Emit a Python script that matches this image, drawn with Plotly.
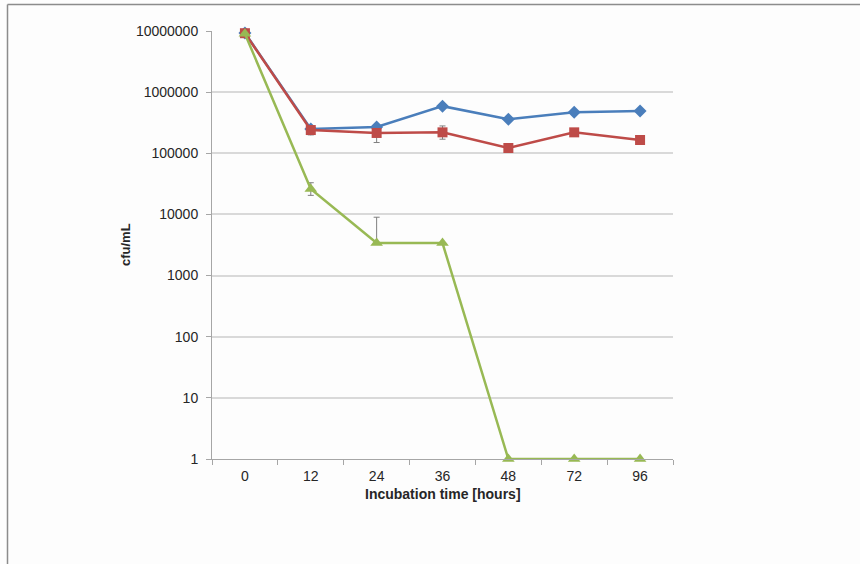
import plotly.graph_objects as go

# Sampling times (hours) and viable counts (cfu/mL)
hours = ["0", "12", "24", "36", "48", "72", "96"]
series_blue = [9.3e6, 2.5e5, 2.7e5, 5.9e5, 3.6e5, 4.7e5, 4.9e5]
series_red = [9.2e6, 2.4e5, 2.15e5, 2.2e5, 1.22e5, 2.2e5, 1.65e5]
series_green = [9.0e6, 2.6e4, 3400, 3400, 1, 1, 1]

# Standard deviations (upper / lower)
red_err_plus = [0, 3.0e4, 3.0e4, 6.0e4, 0, 0, 0]
red_err_minus = [0, 4.0e4, 6.5e4, 5.0e4, 0, 0, 0]
green_err_plus = [0, 7000, 5600, 0, 0, 0, 0]
green_err_minus = [0, 5500, 0, 0, 0, 0, 0]

FONT = "Liberation Sans, Arial, sans-serif"
GRID = "#d9d9d9"
ERR = "#7f7f7f"

fig = go.Figure()

fig.add_trace(go.Scatter(
    x=hours, y=series_blue, mode="lines+markers", cliponaxis=False,
    line=dict(color="#4a7ebb", width=2.5),
    marker=dict(symbol="diamond", size=10, color="#4a7ebb"),
))
fig.add_trace(go.Scatter(
    x=hours, y=series_red, mode="lines+markers", cliponaxis=False,
    line=dict(color="#be4b48", width=2.5),
    marker=dict(symbol="square", size=10, color="#be4b48"),
    error_y=dict(type="data", symmetric=False, array=red_err_plus,
                 arrayminus=red_err_minus, color=ERR, thickness=1, width=3),
))
fig.add_trace(go.Scatter(
    x=hours, y=series_green, mode="lines+markers", cliponaxis=False,
    line=dict(color="#98b954", width=2.5),
    marker=dict(symbol="triangle-up", size=11, color="#98b954"),
    error_y=dict(type="data", symmetric=False, array=green_err_plus,
                 arrayminus=green_err_minus, color=ERR, thickness=1, width=3),
))

L, R, T, B = 212, 673, 31, 459
W, H = 860, 564

fig.update_layout(
    width=W, height=H,
    margin=dict(l=L, r=W - R, t=T, b=H - B, pad=0),
    paper_bgcolor="#fdfdfd", plot_bgcolor="#fdfdfd",
    showlegend=False,
    font=dict(family=FONT, size=14, color="#262626"),
    xaxis=dict(
        type="category", range=[-0.5, 6.5], tickson="boundaries",
        showgrid=False, showline=True, linecolor="#a6a6a6", linewidth=1,
        ticks="outside", ticklen=5, tickcolor="#a6a6a6",
        ticklabelstandoff=4,
        tickfont=dict(family=FONT, size=14, color="#262626"),
        zeroline=False,
    ),
    yaxis=dict(
        type="log", range=[0, 7],
        tickvals=[1, 10, 100, 1000, 10000, 100000, 1000000, 10000000],
        ticktext=["1", "10", "100", "1000", "10000", "100000", "1000000", "10000000"],
        showgrid=True, gridcolor=GRID, gridwidth=1.5,
        showline=True, linecolor="#a6a6a6", linewidth=1,
        ticks="outside", ticklen=5, tickcolor="#a6a6a6",
        ticklabelstandoff=5,
        tickfont=dict(family=FONT, size=14, color="#262626"),
        zeroline=False,
    ),
    annotations=[
        dict(text="<b>Incubation time [hours]</b>", xref="paper", yref="paper",
             x=0.5, y=-(494 - B) / (B - T), xanchor="center", yanchor="middle",
             showarrow=False, font=dict(family=FONT, size=14, color="#262626")),
        dict(text="<b>cfu/mL</b>", xref="paper", yref="paper", textangle=-90,
             x=(125 - L) / (R - L), y=(B - 245) / (B - T),
             xanchor="center", yanchor="middle",
             showarrow=False, font=dict(family=FONT, size=13, color="#262626")),
    ],
    shapes=[
        # outer frame (left and top edges)
        dict(type="line", xref="paper", yref="paper",
             x0=(7.5 - L) / (R - L), x1=(7.5 - L) / (R - L),
             y0=(B - 4.5) / (B - T), y1=(B - 570) / (B - T),
             line=dict(color="#8c8c8c", width=1.5)),
        dict(type="line", xref="paper", yref="paper",
             x0=(7.5 - L) / (R - L), x1=(870 - L) / (R - L),
             y0=(B - 4.5) / (B - T), y1=(B - 4.5) / (B - T),
             line=dict(color="#8c8c8c", width=1.5)),
    ],
)

fig.write_html("out.html")
